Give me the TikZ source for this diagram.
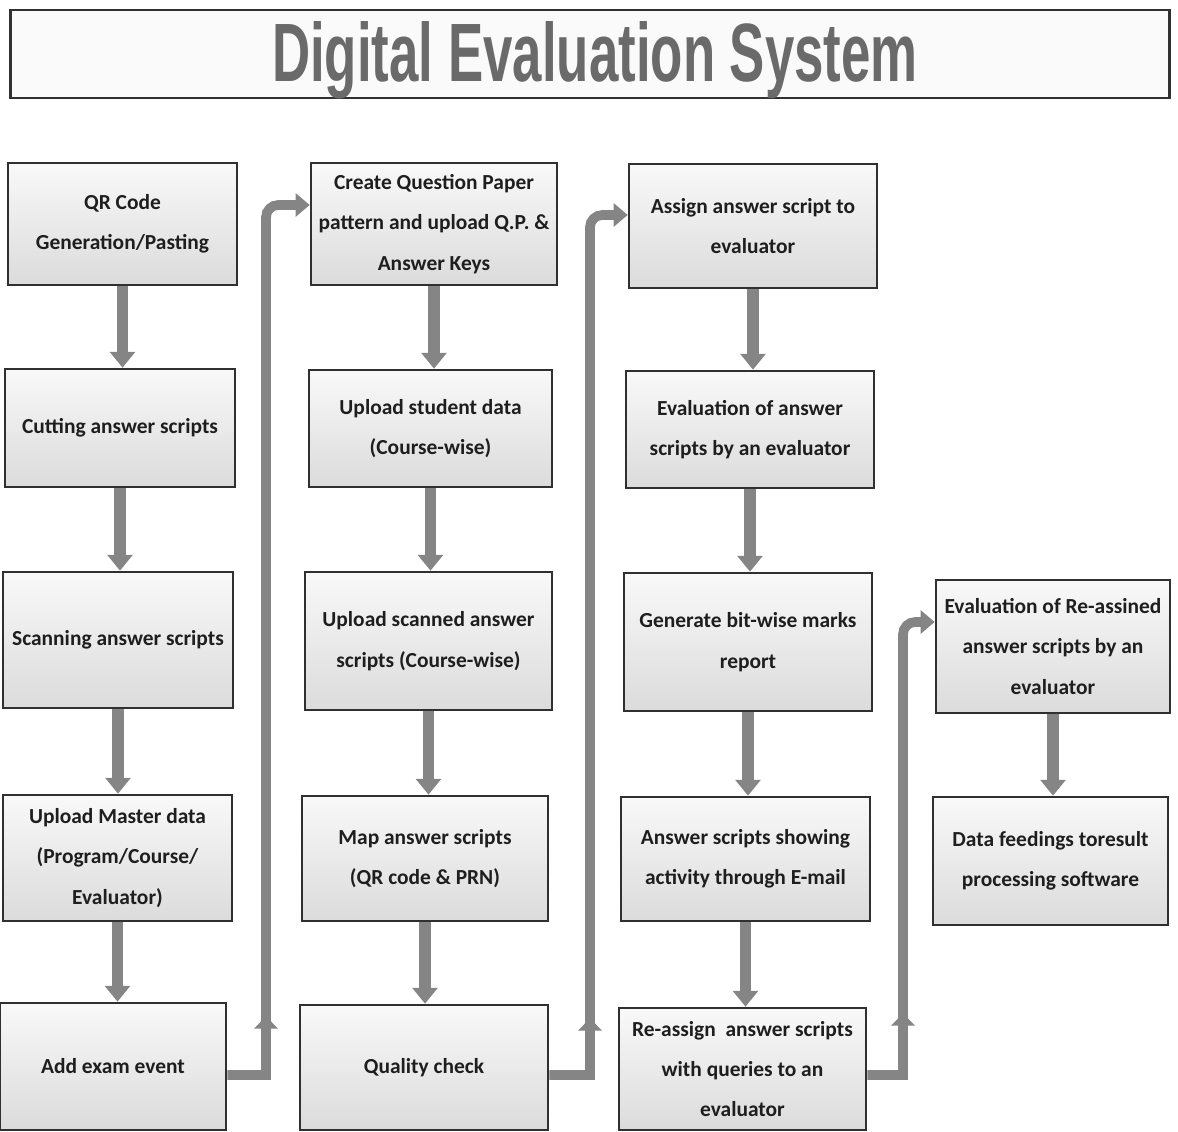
\documentclass[tikz,border=0pt]{standalone}
\usepackage{fontspec}
\setmainfont{Carlito}
\newfontfamily\titlefont{Liberation Sans}
\usetikzlibrary{arrows.meta,decorations.markings}
\definecolor{boxline}{HTML}{303030}
\definecolor{arrowgray}{HTML}{858585}
\definecolor{txtgray}{HTML}{1E1E1E}
\definecolor{titlegray}{HTML}{6A6A6A}
\begin{document}
\begin{tikzpicture}[x=0.02cm,y=-0.02cm,
  box/.style={draw=boxline, line width=1.5pt, top color=gray!5, bottom color=gray!28,
    inner sep=2pt, align=center, text=txtgray, font=\bfseries\fontsize{12.2}{23}\selectfont},
  varrow/.style={draw=arrowgray, line width=6.5pt,
    -{Triangle[width=14pt 0, length=9pt 0]}},
  link/.style={draw=arrowgray, line width=5.5pt,
    -{Triangle[width=13pt 0, length=8pt 0]},
    postaction={decorate},
    decoration={markings, mark=at position 1.95cm with {\arrow{Triangle[width=13pt 0, length=7pt 0]}}}}
]
\useasboundingbox (0,0) rectangle (1178,1132);
% title
\node[draw=boxline, line width=1.6pt, fill=gray!4, minimum width=23.2cm, minimum height=1.76cm, inner sep=0pt]
  (title) at (590,54) {};
\node[text=titlegray, inner sep=0pt, anchor=base] (tt) at (595,82)
  {\resizebox{12.92cm}{1.2cm}{\titlefont\bfseries Digital Evaluation System}};
% column 1
\node[box, minimum width=4.58cm, minimum height=2.44cm] (q1) at (122.5,224) {QR Code\\Generation/Pasting};
\node[box, minimum width=4.60cm, minimum height=2.36cm] (q2) at (120,428) {Cutting answer scripts};
\node[box, minimum width=4.60cm, minimum height=2.72cm] (q3) at (118,640) {Scanning answer scripts};
\node[box, minimum width=4.58cm, minimum height=2.52cm] (q4) at (117.5,858) {Upload Master data\\(Program/Course/\\Evaluator)};
\node[box, minimum width=4.52cm, minimum height=2.54cm] (q5) at (113,1066.5) {Add exam event};
% column 2
\node[box, minimum width=4.92cm, minimum height=2.44cm] (p1) at (434,224) {Create Question Paper\\pattern and upload Q.P. \&\\Answer Keys};
\node[box, minimum width=4.86cm, minimum height=2.34cm] (p2) at (430.5,428.5) {Upload student data\\(Course-wise)};
\node[box, minimum width=4.94cm, minimum height=2.76cm] (p3) at (428.5,641) {Upload scanned answer\\scripts (Course-wise)};
\node[box, minimum width=4.92cm, minimum height=2.50cm] (p4) at (425,858.5) {Map answer scripts\\(QR code \& PRN)};
\node[box, minimum width=4.96cm, minimum height=2.50cm] (p5) at (424,1067.5) {Quality check};
% column 3
\node[box, minimum width=4.96cm, minimum height=2.48cm] (r1) at (753,226) {Assign answer script to\\evaluator};
\node[box, minimum width=4.96cm, minimum height=2.34cm] (r2) at (750,429.5) {Evaluation of answer\\scripts by an evaluator};
\node[box, minimum width=4.96cm, minimum height=2.76cm] (r3) at (748,642) {Generate bit-wise marks\\report};
\node[box, minimum width=4.98cm, minimum height=2.48cm] (r4) at (745.5,859) {Answer scripts showing\\activity through E-mail};
\node[box, minimum width=4.94cm, minimum height=2.44cm] (r5) at (742.5,1069) {Re-assign~ answer scripts\\with queries to an\\evaluator};
% column 4
\node[box, minimum width=4.68cm, minimum height=2.66cm] (s1) at (1053,646.5) {Evaluation of Re-assined\\answer scripts by an\\evaluator};
\node[box, minimum width=4.70cm, minimum height=2.56cm] (s2) at (1050.5,861) {Data feedings toresult\\processing software};
% vertical arrows
\foreach \a/\b in {q1/q2,q2/q3,q3/q4,q4/q5,p1/p2,p2/p3,p3/p4,p4/p5,r1/r2,r2/r3,r3/r4,r4/r5,s1/s2}
  \draw[varrow] (\a.south) -- (\a.south |- \b.north);
% links between columns
\coordinate (j1) at (266,205);
\coordinate (j2) at (590,215);
\coordinate (j3) at (903,622);
\coordinate (k1) at ([yshift=-0.17cm]q5.east);
\coordinate (k2) at ([yshift=-0.15cm]p5.east);
\coordinate (k3) at ([yshift=-0.12cm]r5.east);
\draw[link] (k1) -- (k1 -| j1) [rounded corners=7pt] -- (j1) -- (j1 -| p1.west);
\draw[link] (k2) -- (k2 -| j2) [rounded corners=7pt] -- (j2) -- (j2 -| r1.west);
\draw[link] (k3) -- (k3 -| j3) [rounded corners=7pt] -- (j3) -- (j3 -| s1.west);
\end{tikzpicture}
\end{document}
